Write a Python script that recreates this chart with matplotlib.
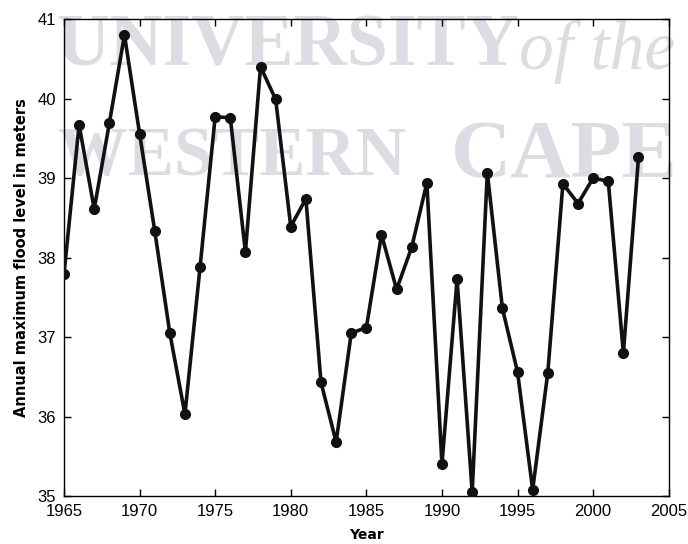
import matplotlib.pyplot as plt

years = list(range(1965, 2004))
flood_level = [
    37.79, 39.67, 38.61, 39.69, 40.80, 39.56, 38.34, 37.05, 36.03, 37.88,
    39.77, 39.76, 38.07, 40.40, 39.99, 38.39, 38.74, 36.43, 35.68, 37.05,
    37.12, 38.29, 37.60, 38.13, 38.94, 35.40, 37.73, 35.05, 39.07, 37.36,
    36.56, 35.08, 36.55, 38.93, 38.68, 39.00, 38.96, 36.80, 39.26,
]
x_ticks = list(range(1965, 2006, 5))
y_ticks = list(range(35, 42))

plt.rcParams["font.family"] = ["Liberation Sans", "DejaVu Sans"]

fig = plt.figure(figsize=(6.88, 5.44), dpi=100)
ax = fig.add_axes([0.093, 0.088, 0.879, 0.877])

# faint watermark behind the plot
wm = dict(transform=fig.transFigure, color="#dcdce3", family="Liberation Serif",
          zorder=0.5, clip_on=False, va="center", ha="left")
ax.text(0.082, 0.912, "UNIVERSITY", fontsize=53, fontweight="bold", **wm)
ax.text(0.755, 0.905, "of the", fontsize=50, style="italic", **wm)
ax.text(0.085, 0.71, "WESTERN", fontsize=50, fontweight="bold", **wm)
ax.text(0.655, 0.71, "CAPE", fontsize=60, fontweight="bold", **wm)

ax.plot(years, flood_level, color="#111111", lw=2.6, marker="o",
        markersize=7, zorder=3)

ax.set_xlim(1965, 2005)
ax.set_ylim(35, 41)
ax.set_xticks(x_ticks)
ax.set_yticks(y_ticks)
ax.tick_params(direction="in", top=True, right=True, labelsize=12,
               length=5, width=1, pad=6)
for s in ax.spines.values():
    s.set_linewidth(1)
ax.set_xlabel("Year", fontsize=10, fontweight="bold", family="DejaVu Sans",
              labelpad=6)
ax.set_ylabel("Annual maximum flood level in meters", fontsize=10.5,
              fontweight="bold", family="DejaVu Sans", labelpad=6)

fig.savefig("out.png", dpi=100)
